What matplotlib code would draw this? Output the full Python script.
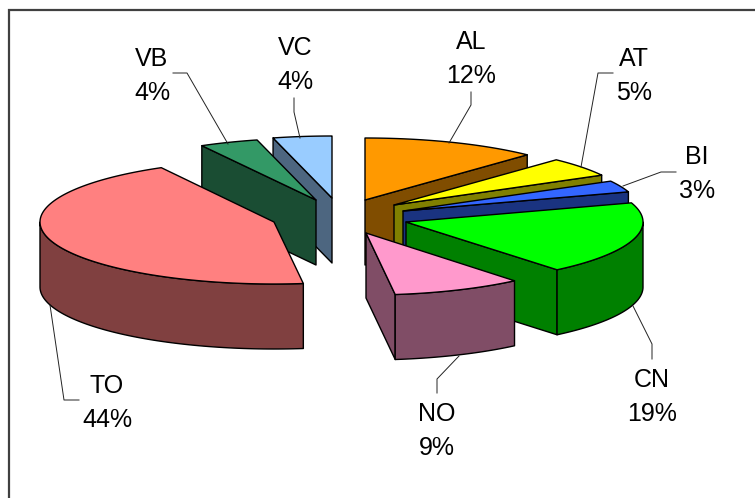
import numpy as np
import matplotlib
matplotlib.use("Agg")
import matplotlib.pyplot as plt
from matplotlib.patches import Polygon

categories = ["AL", "AT", "BI", "CN", "NO", "TO", "VB", "VC"]
shares = [12, 5, 3, 19, 9, 44, 4, 4]

top_colors = ["#FF9900", "#FFFF00", "#3366FF", "#00FF00", "#FF99CC", "#FF8080", "#339966", "#99CCFF"]
side_colors = ["#804D00", "#808000", "#1A3380", "#008000", "#804D66", "#804040", "#1A4D33", "#4D6680"]

# exploded apex of every slice and its horizontal radius, in pixels
apex_x = [365, 394, 403, 406, 366, 274, 316, 332]
apex_y = [200, 205, 211, 222, 233, 222, 200, 198]
radius_x = [237, 237, 237, 237, 233, 234, 237, 237]

label_x = [471, 634, 697, 652, 437, 107, 152, 295]
label_y = [59, 76, 174, 397, 431, 403, 76, 65]

leaders = {
    "AL": [(471, 92), (471, 105), (449, 143)],
    "AT": [(613, 73), (598, 73), (581, 167)],
    "BI": [(676, 172), (661, 172), (623, 186)],
    "CN": [(652, 359), (652, 344), (633, 306)],
    "NO": [(437, 393), (437, 379), (459, 356)],
    "TO": [(79, 400), (64, 400), (50, 305)],
    "VB": [(173, 73), (187, 73), (228, 144)],
    "VC": [(294, 98), (294, 112), (300, 138)],
}

RY, DEPTH = 62, 65
draw_order = ["VC", "VB", "AL", "AT", "BI", "CN", "TO", "NO"]

plt.rcParams["font.family"] = ["Liberation Sans", "DejaVu Sans"]
fig = plt.figure(figsize=(7.55, 4.98), dpi=100)
ax = fig.add_axes([0, 0, 1, 1])
ax.set_xlim(0, 755)
ax.set_ylim(498, 0)
ax.axis("off")

ax.plot([9, 9, 755], [498, 10, 10], color="#404040", lw=1.6, solid_joinstyle="miter", zorder=1)

edges = np.cumsum([0] + shares) / sum(shares) * 2 * np.pi


def rim(cx, cy, rx, a):
    return cx + rx * np.sin(a), cy - RY * np.cos(a)


def poly(xs, ys, color, z):
    ax.add_patch(Polygon(np.column_stack([xs, ys]), closed=True, facecolor=color,
                         edgecolor="black", lw=1.0, joinstyle="round", zorder=z))


z = 2
for name in draw_order:
    i = categories.index(name)
    cx, cy, rx = apex_x[i], apex_y[i], radius_x[i]
    a0, a1 = edges[i], edges[i + 1]
    side = side_colors[i]
    # walls of the cuts
    walls = []
    if np.sin(a0) < 0:
        walls.append(a0)
    if np.sin(a1) > 0:
        walls.append(a1)
    for a in walls:
        x, y = rim(cx, cy, rx, a)
        poly([cx, x, x, cx], [cy, y, y + DEPTH, cy + DEPTH], side, z)
        z += 1
    # curved outer wall, front half only
    lo, hi = max(a0, np.pi / 2), min(a1, 3 * np.pi / 2)
    if hi > lo:
        t = np.linspace(lo, hi, 80)
        x, y = rim(cx, cy, rx, t)
        poly(np.r_[x, x[::-1]], np.r_[y, y[::-1] + DEPTH], side, z)
        z += 1
    # top face
    t = np.linspace(a0, a1, 120)
    x, y = rim(cx, cy, rx, t)
    poly(np.r_[cx, x], np.r_[cy, y], top_colors[i], z)
    z += 1

for name, pts in leaders.items():
    xs, ys = zip(*pts)
    ax.plot(xs, ys, color="#222222", lw=0.7, zorder=50)

for name, share, x, y in zip(categories, shares, label_x, label_y):
    ax.text(x, y, f"{name}\n{share}%", ha="center", va="center", fontsize=18,
            linespacing=1.48, color="black", zorder=60)

fig.savefig("out.png", dpi=100)
